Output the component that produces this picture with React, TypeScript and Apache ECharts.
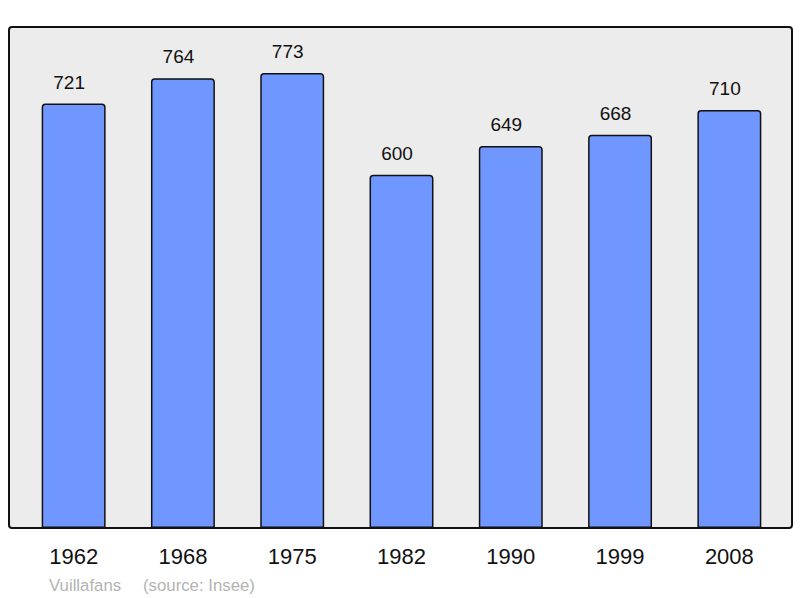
import React, { useEffect, useRef } from "react";
import * as echarts from "echarts";

const years = ["1962", "1968", "1975", "1982", "1990", "1999", "2008"];
const population = [721, 764, 773, 600, 649, 668, 710];
const footerName = "Vuillafans";
const footerSource = "(source: Insee)";

const FONT = '"Liberation Sans", Arial, sans-serif';

export default function App() {
  const ref = useRef<HTMLDivElement>(null);
  useEffect(() => {
    const chart = echarts.init(ref.current!, null, { renderer: "svg" });
    chart.setOption({
      animation: false,
      graphic: [
        {
          type: "rect",
          shape: { x: 9, y: 27, width: 783, height: 501, r: 3 },
          style: { fill: "#ececec", stroke: "#111", lineWidth: 2 },
          z: -10,
          silent: true,
        },
        {
          type: "text",
          x: 49,
          y: 585,
          style: {
            text: footerName,
            fill: "#b3b3b3",
            font: "16.8px " + FONT,
            verticalAlign: "middle",
          },
        },
        {
          type: "text",
          x: 143,
          y: 585,
          style: {
            text: footerSource,
            fill: "#b3b3b3",
            font: "16.8px " + FONT,
            verticalAlign: "middle",
          },
        },
      ],
      grid: { left: 19, right: 16, top: 27, bottom: 70, containLabel: false },
      xAxis: {
        type: "category",
        data: years,
        axisLine: { show: false },
        axisTick: { show: false },
        axisLabel: {
          color: "#111",
          fontSize: 22,
          fontFamily: FONT,
          margin: 17,
        },
      },
      yAxis: {
        type: "value",
        min: 0,
        max: 851,
        show: false,
        splitLine: { show: false },
      },
      series: [
        {
          type: "bar",
          data: population,
          barWidth: "58.5%",
          itemStyle: {
            color: "#7097ff",
            borderColor: "#111",
            borderWidth: 1.5,
            borderRadius: [3, 3, 0, 0],
          },
          label: {
            show: true,
            position: "top",
            distance: 12,
            offset: [-4.5, 0],
            color: "#111",
            fontSize: 19,
            fontFamily: FONT,
          },
        },
      ],
    });
    return () => chart.dispose();
  }, []);
  return <div ref={ref} style={{ width: 800, height: 598, position: "absolute", left: 0, top: 0 }} />;
}
